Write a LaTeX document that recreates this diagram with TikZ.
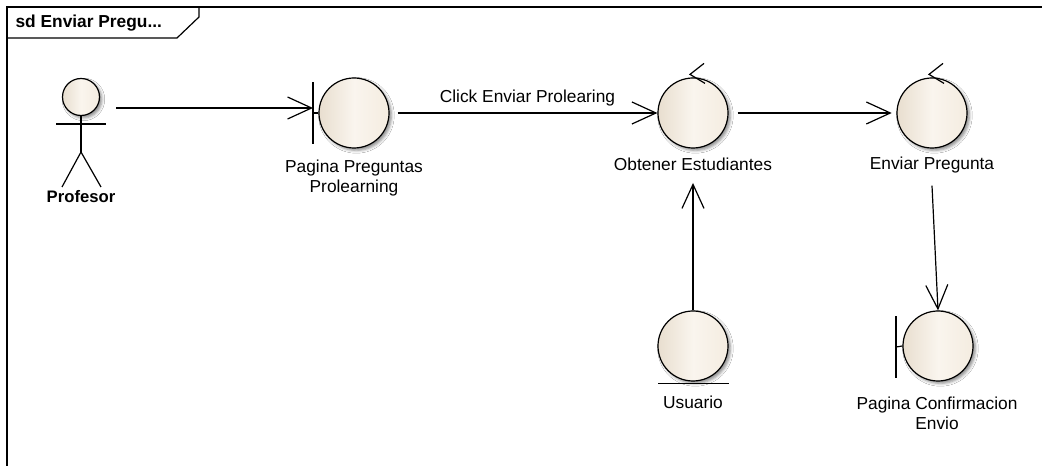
\documentclass[tikz,border=0pt]{standalone}
\usepackage{fontspec}
\setmainfont{Liberation Sans}
\usetikzlibrary{arrows.meta, shadows.blur, calc}
\definecolor{creamdark}{RGB}{232,222,207}
\definecolor{creammid}{RGB}{250,245,238}
\definecolor{creamlight}{RGB}{244,236,224}

\begin{document}
\begin{tikzpicture}[x=0.75pt, y=-0.75pt, line width=0.9pt,
  ball/.style={circle, draw=black, line width=0.9pt, minimum size=52.5pt, inner sep=0pt,
    left color=creamdark, right color=creamlight, middle color=creammid,
    blur shadow={shadow xshift=1.8pt, shadow yshift=-1.8pt, shadow blur steps=4, shadow opacity=45}},
  head/.style={ball, minimum size=27.75pt},
  lbl/.style={font=\fontsize{13}{15}\selectfont, align=center, inner sep=2pt},
  barnode/.style={inner sep=0pt, minimum width=0pt, minimum height=45pt},
  msg/.style={-{Straight Barb[length=18pt, width=16.5pt]}},
]
% canvas
\fill[white] (0,0) rectangle (1042,466);
\useasboundingbox (0,0) rectangle (1042,466);

% frame and its tag
\draw (7,466) -- (7,7) -- (1042,7);
\draw (7,38) -- (177,38) -- (199,17) -- (199,7);
\node[anchor=west, inner sep=0pt, font=\bfseries\fontsize{13}{15}\selectfont] (title) at (15,23) {sd Enviar Pregu...};

% actor Profesor
\node[head] (profHead) at (81,97) {};
\coordinate (hip) at (81,152);
\coordinate (armL) at (56,124);
\coordinate (armR) at (106,124);
\coordinate (legL) at (62,187);
\coordinate (legR) at (101,187);
\draw (profHead.south) -- (hip);
\draw (armL) -- (armR);
\draw (legL) -- (hip) -- (legR);
\node[lbl, font=\bfseries\fontsize{12.5}{15}\selectfont] (prof) at (81,197) {Profesor};
\coordinate (profOut) at (116,108);

% boundary Pagina Preguntas Prolearning
\node[ball] (pag1) at (354,113) {};
\node[barnode] (pag1bar) at (313,113) {};
\draw (pag1bar.north) -- (pag1bar.south);
\draw (pag1bar.center) -- (pag1.west);
\node[lbl] (pag1Lbl) at (354,178) {Pagina Preguntas\\Prolearning};

% control Obtener Estudiantes
\node[ball] (obt) at (693,113) {};
\draw ($(obt.north)+(11,-14)$) -- ($(obt.north)+(-3,-3)$) -- ($(obt.north)+(12,6)$);
\node[lbl] (obtLbl) at (693,164) {Obtener Estudiantes};

% control Enviar Pregunta
\node[ball] (env) at (932,113) {};
\draw ($(env.north)+(11,-14)$) -- ($(env.north)+(-3,-3)$) -- ($(env.north)+(12,6)$);
\node[lbl] (envLbl) at (932,165) {Enviar Pregunta};

% entity Usuario
\node[ball] (usr) at (693,346) {};
\draw ($(usr.south)+(-35,2)$) -- ($(usr.south)+(36,2)$);
\node[lbl] (usrLbl) at (693,402) {Usuario};

% boundary Pagina Confirmacion Envio
\node[ball] (conf) at (938,346) {};
\node[barnode] (confbar) at (896,347) {};
\draw (confbar.north) -- (confbar.south);
\draw (confbar.center) -- (conf.west);
\node[lbl] (confLbl) at (937,413) {Pagina Confirmacion\\Envio};

% messages
\draw[msg] (profOut) -- (profOut -| pag1bar);
\draw[msg] ([xshift=6pt]pag1.east) -- (obt.west)
  node[midway, above=3pt, lbl] (clickLbl) {Click Enviar Prolearing};
\draw[msg] ([xshift=6.75pt]obt.east) -- ([xshift=-3.5pt]env.west);
\draw[msg] (usr.north) -- ([yshift=-7pt]obtLbl.south);
\draw[msg] ([yshift=-7pt]envLbl.south) -- (conf.north);
\end{tikzpicture}
\end{document}
